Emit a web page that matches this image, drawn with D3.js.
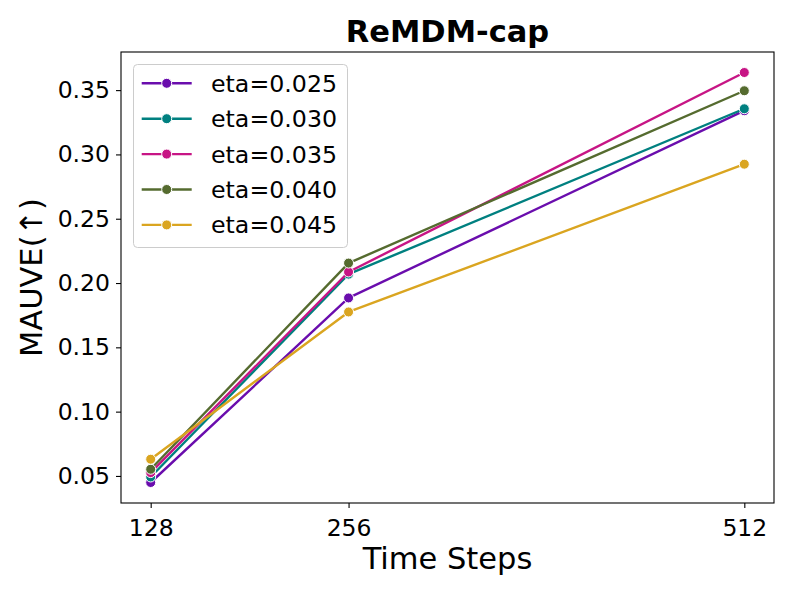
<!DOCTYPE html>
<html><head><meta charset="utf-8">
<script src="https://cdn.jsdelivr.net/npm/d3@7"></script>
<style>body{margin:0;background:#fff}svg{display:block}text{font-family:"DejaVu Sans",sans-serif}</style>
</head><body>
<script>
const steps = [128, 256, 512];
const seriesNames = ["eta=0.025", "eta=0.030", "eta=0.035", "eta=0.040", "eta=0.045"];
const eta025 = [0.0449, 0.1884, 0.3340];
const eta030 = [0.0492, 0.2069, 0.3355];
const eta035 = [0.0526, 0.2086, 0.3637];
const eta040 = [0.0552, 0.2155, 0.3495];
const eta045 = [0.0630, 0.1775, 0.2924];
const colors = ["#6a0dad", "#008080", "#c71585", "#556b2f", "#daa520"];
const yTicks = [0.05, 0.10, 0.15, 0.20, 0.25, 0.30, 0.35];
const title = "ReMDM-cap", xLabel = "Time Steps", yLabel = "MAUVE(↑)";

const allSeries = [eta025, eta030, eta035, eta040, eta045];
const W = 793, H = 594;
const L = 121, R = 774, T = 52, B = 503;
const svg = d3.select("body").append("svg").attr("width", W).attr("height", H);

const allVals = allSeries.flat();
const yMin = d3.min(allVals), yMax = d3.max(allVals), yPad = (yMax - yMin) * 0.05;
const xPad = (512 - 128) * 0.05;
const x = d3.scaleLinear().domain([128 - xPad, 512 + xPad]).range([L, R]);
const y = d3.scaleLinear().domain([yMin - yPad, yMax + yPad]).range([B, T]);

// axes
const xAxis = svg.append("g").attr("transform", `translate(0,${B})`)
  .call(d3.axisBottom(x).tickValues(steps).tickSize(5).tickPadding(6).tickFormat(d3.format("d")));
const yAxis = svg.append("g").attr("transform", `translate(${L},0)`)
  .call(d3.axisLeft(y).tickValues(yTicks).tickSize(5).tickPadding(6).tickFormat(d3.format(".2f")));
[xAxis, yAxis].forEach(g => {
  g.select(".domain").remove();
  g.selectAll(".tick line").attr("stroke", "#000").attr("stroke-width", 1.1);
  g.selectAll(".tick text").attr("font-size", 23.5).attr("fill", "#000").attr("font-family", "DejaVu Sans");
});
xAxis.selectAll(".tick text").attr("dy", "0.93em");

// series
const line = d3.line().x((d, i) => x(steps[i])).y(d => y(d));
allSeries.forEach((s, k) => {
  svg.append("path").datum(s).attr("d", line).attr("fill", "none")
    .attr("stroke", colors[k]).attr("stroke-width", 2.4).attr("stroke-linejoin", "round");
  svg.selectAll(null).data(s).enter().append("circle")
    .attr("cx", (d, i) => x(steps[i])).attr("cy", d => y(d)).attr("r", 5)
    .attr("fill", colors[k]).attr("stroke", "#fff").attr("stroke-width", 1);
});

// frame
svg.append("rect").attr("x", L).attr("y", T).attr("width", R - L).attr("height", B - T)
  .attr("fill", "none").attr("stroke", "#000").attr("stroke-width", 1.1);

// legend
const lg = svg.append("g");
lg.append("rect").attr("x", 133.5).attr("y", 64.5).attr("width", 214).attr("height", 183)
  .attr("rx", 4).attr("fill", "#fff").attr("fill-opacity", 0.8).attr("stroke", "#ccc").attr("stroke-width", 1);
seriesNames.forEach((n, k) => {
  const cy = 83.3 + k * 35.4;
  lg.append("line").attr("x1", 141.7).attr("x2", 191.7).attr("y1", cy).attr("y2", cy)
    .attr("stroke", colors[k]).attr("stroke-width", 2.4);
  lg.append("circle").attr("cx", 166.7).attr("cy", cy).attr("r", 5)
    .attr("fill", colors[k]).attr("stroke", "#fff").attr("stroke-width", 1);
  lg.append("text").attr("x", 211).attr("y", cy).attr("dy", "0.36em")
    .attr("font-size", 23.7).text(n);
});

// labels
svg.append("text").attr("x", (L + R) / 2).attr("y", 42).attr("text-anchor", "middle")
  .attr("font-size", 30.5).attr("font-weight", "bold").text(title);
svg.append("text").attr("x", (L + R) / 2).attr("y", 569).attr("text-anchor", "middle")
  .attr("font-size", 30.5).text(xLabel);
svg.append("text").attr("transform", `translate(41.5,${(T + B) / 2}) rotate(-90)`)
  .attr("text-anchor", "middle").attr("font-size", 30.5).text(yLabel);
</script>
</body></html>
